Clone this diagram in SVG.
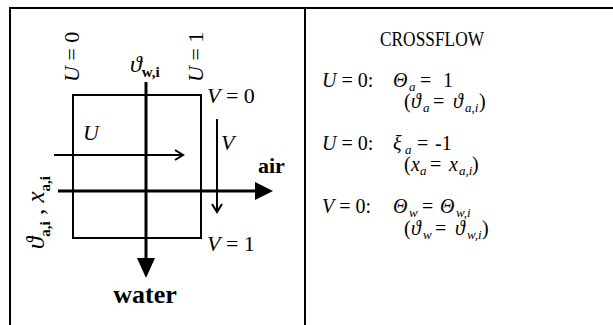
<svg xmlns="http://www.w3.org/2000/svg" width="613" height="325" viewBox="0 0 613 325">
<style>
  text { font-family: "Liberation Serif", "Times New Roman", serif; fill: #000; }
  .lab { font-size: 22px; }
  .it { font-style: italic; }
  .b { font-weight: bold; }
  .sub { font-size: 13px; }
  .sub2 { font-size: 15px; }
  .frame { stroke: #000; stroke-width: 2; fill: none; }
  .thick { stroke: #000; stroke-width: 3; fill: none; }
  .thin { stroke: #000; stroke-width: 2; fill: none; }
  .rt { font-size: 20px; }
</style>
<rect width="613" height="325" fill="#fff"/>
<g id="frame">
  <polyline class="frame" points="10,325 10,8 613,8"/>
  <line class="frame" x1="305" y1="8" x2="305" y2="325"/>
</g>
<g id="exchanger">
  <rect x="73" y="95" width="128" height="143" fill="none" stroke="#000" stroke-width="2"/>
</g>
<g id="connectors">
  <line class="thick" x1="146" y1="82" x2="146" y2="260"/>
  <polygon points="137,258 155,258 146,278" fill="#000"/>
  <line class="thick" x1="58" y1="191" x2="257" y2="191"/>
  <polygon points="255,182 255,200 273,191" fill="#000"/>
  <line class="thin" x1="54" y1="155" x2="182" y2="155"/>
  <polyline class="thin" points="175,150 183,155 175,160"/>
  <line class="thin" x1="217" y1="119" x2="217" y2="211"/>
  <polyline class="thin" points="212,204 217,212 222,204"/>
</g>
<g id="labels-left">
  <text class="lab" transform="translate(79,82) rotate(-90)"><tspan class="it">U</tspan> = 0</text>
  <text class="lab" transform="translate(203,82) rotate(-90)"><tspan class="it">U</tspan> = 1</text>
  <text x="130" y="72" style="font-size:24px"><tspan class="it">ϑ</tspan><tspan class="sub2 b" dy="5">w,i</tspan></text>
  <text class="lab" x="207" y="103"><tspan class="it">V</tspan> = 0</text>
  <text class="lab it" x="83" y="140">U</text>
  <text class="lab it" x="221" y="150">V</text>
  <text class="lab b" x="258" y="173">air</text>
  <text class="lab" x="207" y="251"><tspan class="it">V</tspan> = 1</text>
  <text class="b" x="145" y="303" text-anchor="middle" style="font-size:26px">water</text>
  <text transform="translate(44,249) rotate(-90)" style="font-size:25px"><tspan class="it">ϑ</tspan><tspan class="sub2 b" dy="6">a,i</tspan><tspan dy="-6"> , </tspan><tspan class="it">x</tspan><tspan class="sub2 b" dy="6">a,i</tspan></text>
</g>
<g id="labels-right">
  <text x="432" y="46" text-anchor="middle" style="font-size:20px" textLength="104" lengthAdjust="spacingAndGlyphs">CROSSFLOW</text>
  <text class="rt" x="322" y="87"><tspan class="it">U</tspan> = 0:</text>
  <text class="rt"><tspan class="it" x="393" y="87">Θ</tspan><tspan class="sub it" x="409" y="91">a</tspan><tspan x="420" y="87">=</tspan><tspan x="443" y="87">1</tspan></text>
  <text class="rt"><tspan x="404" y="108">(</tspan><tspan class="it" x="411" y="108">ϑ</tspan><tspan class="sub it" x="423" y="112">a</tspan><tspan x="433" y="108">=</tspan><tspan class="it" x="453" y="108">ϑ</tspan><tspan class="sub it" x="465" y="112">a,i</tspan><tspan x="479" y="108">)</tspan></text>
  <text class="rt" x="322" y="150"><tspan class="it">U</tspan> = 0:</text>
  <text class="rt"><tspan class="it" x="393" y="150">ξ</tspan><tspan class="sub it" x="405" y="154">a</tspan><tspan x="417" y="150">=</tspan><tspan x="435" y="150">-1</tspan></text>
  <text class="rt"><tspan x="404" y="171">(</tspan><tspan class="it" x="411" y="171">x</tspan><tspan class="sub it" x="420" y="175">a</tspan><tspan x="430" y="171">=</tspan><tspan class="it" x="449" y="171">x</tspan><tspan class="sub it" x="459" y="175">a,i</tspan><tspan x="472" y="171">)</tspan></text>
  <text class="rt" x="322" y="213"><tspan class="it">V</tspan> = 0:</text>
  <text class="rt"><tspan class="it" x="393" y="213">Θ</tspan><tspan class="sub it" x="409" y="217">w</tspan><tspan x="422" y="213">=</tspan><tspan class="it" x="440" y="213">Θ</tspan><tspan class="sub it" x="456" y="217">w,i</tspan></text>
  <text class="rt"><tspan x="404" y="235">(</tspan><tspan class="it" x="411" y="235">ϑ</tspan><tspan class="sub it" x="423" y="239">w</tspan><tspan x="435" y="235">=</tspan><tspan class="it" x="455" y="235">ϑ</tspan><tspan class="sub it" x="467" y="239">w,i</tspan><tspan x="482" y="235">)</tspan></text>
</g>
</svg>
